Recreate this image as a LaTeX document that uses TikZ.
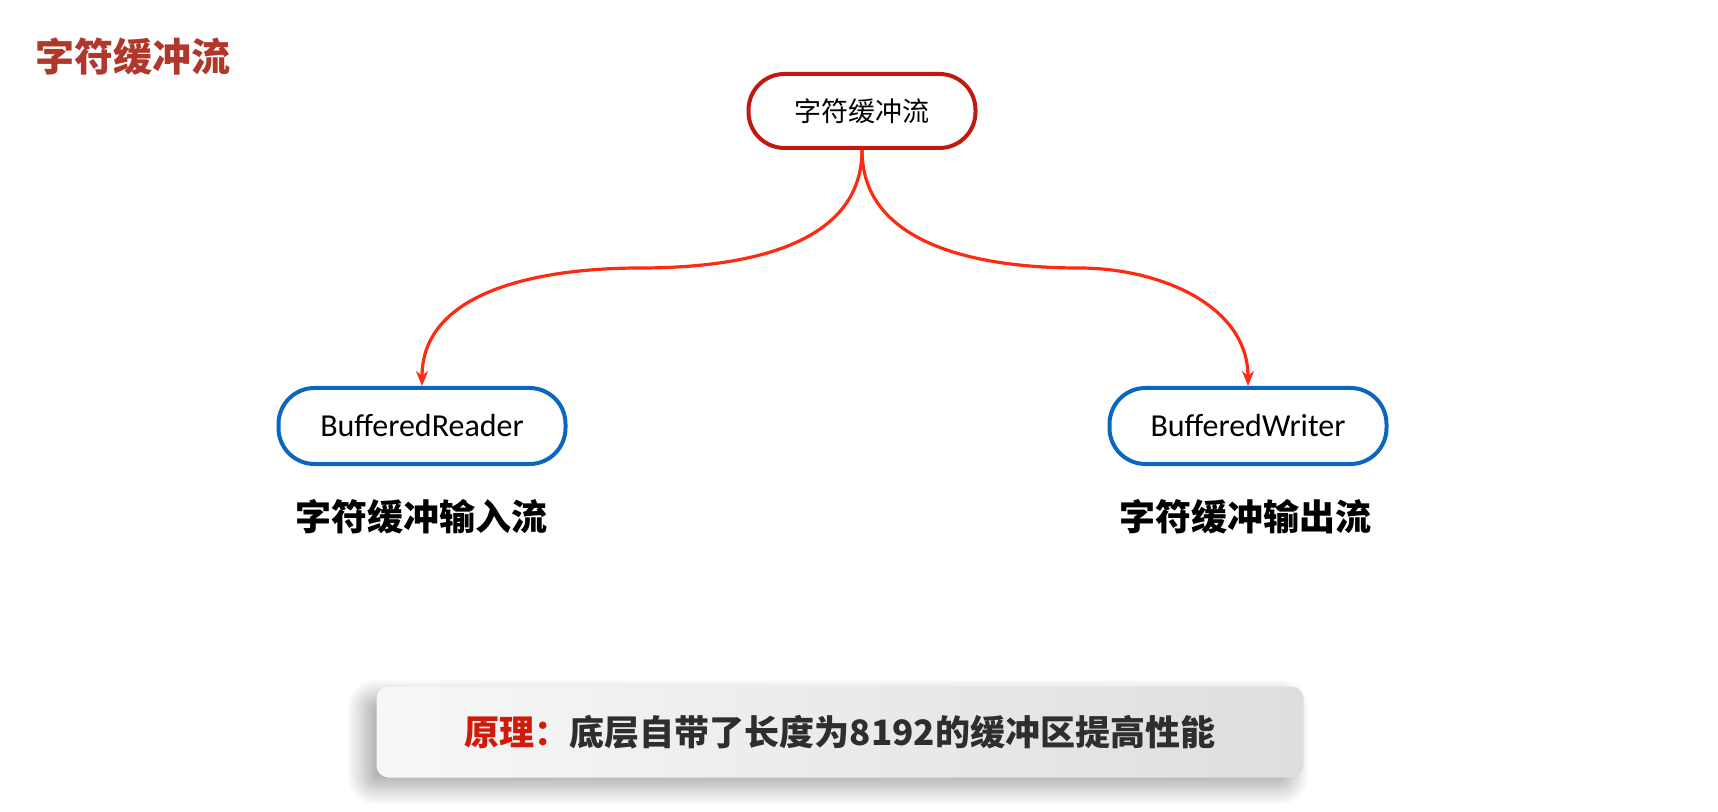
\documentclass[tikz,border=0pt]{standalone}
\usepackage{fontspec}
\setmainfont{Carlito}
\newfontfamily\cjk{Noto Sans CJK SC}
\usepackage{tikz}
\usetikzlibrary{arrows.meta}
\usetikzlibrary{shadows.blur}
\definecolor{titlered}{HTML}{B0382B}
\definecolor{rootred}{HTML}{C01A10}
\definecolor{arrowred}{HTML}{FF2A12}
\definecolor{nodeblue}{HTML}{0B66C0}
\definecolor{textgray}{HTML}{2E2E2E}
\definecolor{tipred}{HTML}{D01A0A}

\begin{document}
\begin{tikzpicture}[x=0.5pt,y=-0.5pt]
							\tikzstyle{pill}=[rectangle,rounded corners=18pt,line width=2pt,fill=white,inner sep=0pt,minimum height=38pt]
							\tikzstyle{edge}=[draw=arrowred,line width=1.6pt,-{Stealth[length=7.5pt,width=6pt]}]
							\tikzstyle{label}=[font=\cjk\bfseries\fontsize{18}{19}\selectfont]
							\useasboundingbox (0,0) rectangle (1718,812);
							\node[text=titlered,font=\cjk\bfseries\fontsize{19.5}{20}\selectfont] (0) at (133,57) {字符缓冲流};
							\node[pill,draw=rootred,minimum width=113.5pt,minimum height=37pt,font=\cjk\fontsize{13.5}{14}\selectfont] (1) at (862,111) {字符缓冲流};
							\node[pill,draw=nodeblue,minimum width=143.5pt,font=\fontsize{16}{17}\selectfont] (2) at (422,426) {BufferedReader};
							\node[pill,draw=nodeblue,minimum width=138.5pt,font=\fontsize{16}{17}\selectfont] (3) at (1248,426) {BufferedWriter};
							\node[label] (4) at (421,517) {字符缓冲输入流};
							\node[label] (5) at (1245,517) {字符缓冲输出流};
							\coordinate (6) at (640,268);
							\coordinate (7) at (1079,268);
							\draw[edge] (1.south) to[out=-90,in=0] (6) to[out=180,in=90] (2.north);
							\draw[edge] (1.south) to[out=-90,in=180] (7) to[out=0,in=90] (3.north);
							\node[rectangle,rounded corners=6pt,left color=gray!6,right color=gray!26,minimum width=463.5pt,minimum height=45.5pt,
								blur shadow={shadow xshift=-6pt,shadow yshift=-5pt,shadow blur radius=9pt,shadow blur steps=20,shadow opacity=35},
								text=textgray,font=\cjk\bfseries\fontsize{17.5}{18}\selectfont] (8) at (840,732)
								{{\color{tipred}原理：}底层自带了长度为8192的缓冲区提高性能};
							\end{tikzpicture}
\end{document}
